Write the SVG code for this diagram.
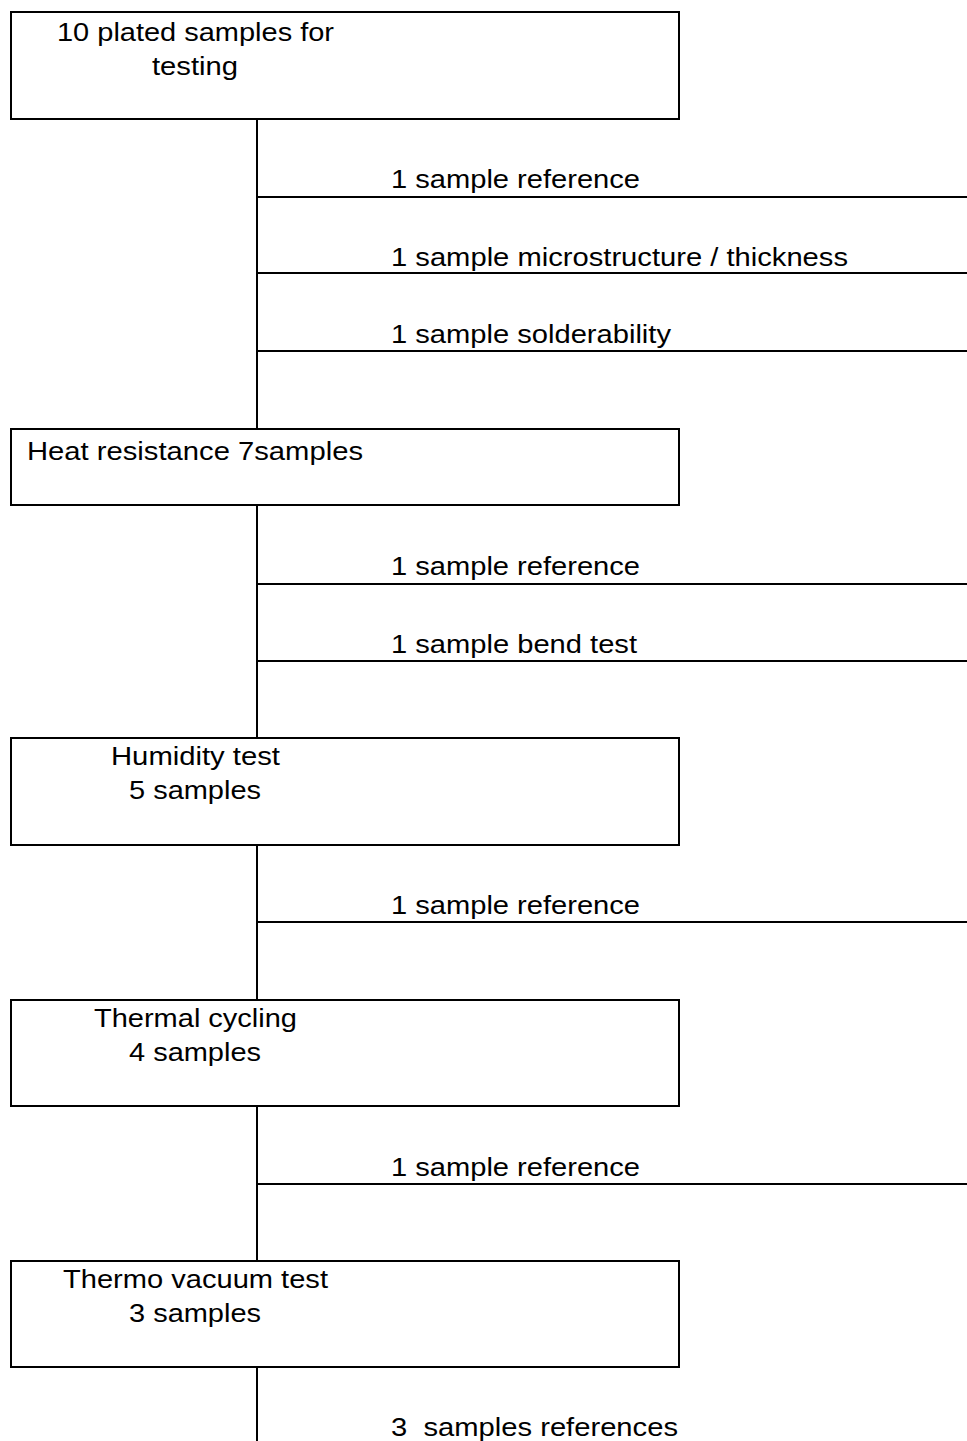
<svg xmlns="http://www.w3.org/2000/svg" width="967" height="1441" viewBox="0 0 967 1441">
<style>
.box{fill:#fff;stroke:#000;stroke-width:2}
.ln{stroke:#000;stroke-width:2;fill:none}
text{font-family:"Liberation Sans",Arial,sans-serif;font-size:26px;fill:#000}
.pre{white-space:pre}
</style>
<rect width="967" height="1441" fill="#fff"/>
<g id="connectors">
<line class="ln" x1="257" y1="119" x2="257" y2="429"/>
<line class="ln" x1="257" y1="197" x2="967" y2="197"/>
<line class="ln" x1="257" y1="273" x2="967" y2="273"/>
<line class="ln" x1="257" y1="351" x2="967" y2="351"/>
<line class="ln" x1="257" y1="505" x2="257" y2="738"/>
<line class="ln" x1="257" y1="584" x2="967" y2="584"/>
<line class="ln" x1="257" y1="661" x2="967" y2="661"/>
<line class="ln" x1="257" y1="845" x2="257" y2="1000"/>
<line class="ln" x1="257" y1="922" x2="967" y2="922"/>
<line class="ln" x1="257" y1="1106" x2="257" y2="1261"/>
<line class="ln" x1="257" y1="1184" x2="967" y2="1184"/>
<line class="ln" x1="257" y1="1367" x2="257" y2="1441"/>
<text x="391" y="188" textLength="249" lengthAdjust="spacingAndGlyphs">1 sample reference</text>
<text x="391" y="266" textLength="457" lengthAdjust="spacingAndGlyphs">1 sample microstructure / thickness</text>
<text x="391" y="343" textLength="280" lengthAdjust="spacingAndGlyphs">1 sample solderability</text>
<text x="391" y="575" textLength="249" lengthAdjust="spacingAndGlyphs">1 sample reference</text>
<text x="391" y="653" textLength="246" lengthAdjust="spacingAndGlyphs">1 sample bend test</text>
<text x="391" y="914" textLength="249" lengthAdjust="spacingAndGlyphs">1 sample reference</text>
<text x="391" y="1176" textLength="249" lengthAdjust="spacingAndGlyphs">1 sample reference</text>
<text class="pre" xml:space="preserve" x="391" y="1436" textLength="287" lengthAdjust="spacingAndGlyphs">3  samples references</text>
</g>
<g id="n1"><rect class="box" x="11" y="12" width="668" height="107"/>
<text x="57" y="41" textLength="277" lengthAdjust="spacingAndGlyphs">10 plated samples for</text><text x="152" y="75" textLength="86" lengthAdjust="spacingAndGlyphs">testing</text></g>
<g id="n2"><rect class="box" x="11" y="429" width="668" height="76"/>
<text x="27" y="460" textLength="336" lengthAdjust="spacingAndGlyphs">Heat resistance 7samples</text></g>
<g id="n3"><rect class="box" x="11" y="738" width="668" height="107"/>
<text x="111" y="765" textLength="169" lengthAdjust="spacingAndGlyphs">Humidity test</text><text x="129" y="799" textLength="132" lengthAdjust="spacingAndGlyphs">5 samples</text></g>
<g id="n4"><rect class="box" x="11" y="1000" width="668" height="106"/>
<text x="94" y="1027" textLength="203" lengthAdjust="spacingAndGlyphs">Thermal cycling</text><text x="129" y="1061" textLength="132" lengthAdjust="spacingAndGlyphs">4 samples</text></g>
<g id="n5"><rect class="box" x="11" y="1261" width="668" height="106"/>
<text x="63" y="1288" textLength="265" lengthAdjust="spacingAndGlyphs">Thermo vacuum test</text><text x="129" y="1322" textLength="132" lengthAdjust="spacingAndGlyphs">3 samples</text></g>
</svg>
